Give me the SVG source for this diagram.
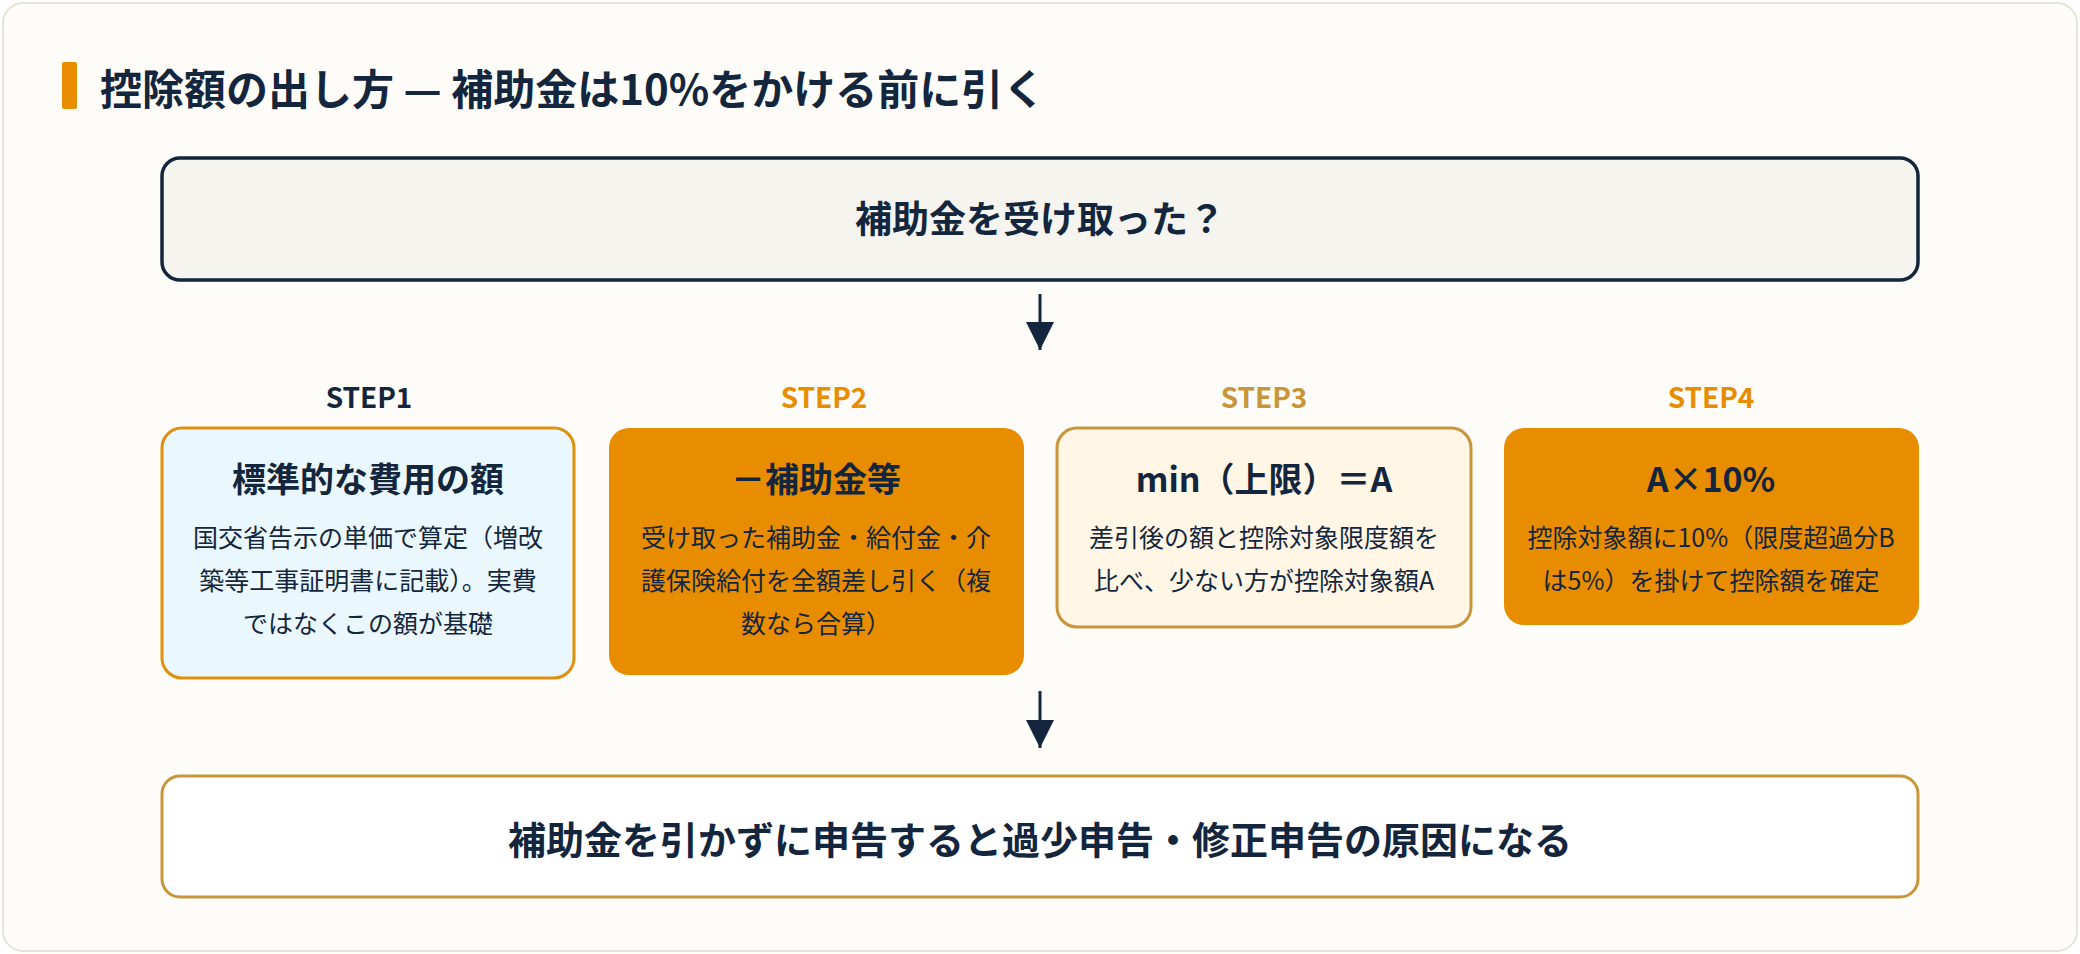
<svg xmlns="http://www.w3.org/2000/svg" width="2080" height="954" viewBox="0 0 2080 954">
<defs>
<style>
text{font-family:"Noto Sans CJK JP","Noto Sans",sans-serif;fill:#14263d;text-anchor:middle}
.h{font-size:37px;font-weight:700}
.hs{font-size:34px;font-weight:700}
.b{font-size:25px}
.s{font-size:28px;font-weight:700}
.ln{stroke:#14263d;stroke-width:3;fill:none}
</style>
<marker id="arr" viewBox="0 0 10 10" refX="10" refY="5" markerWidth="28" markerHeight="28" markerUnits="userSpaceOnUse" orient="auto"><path d="M0,0L10,5L0,10z" fill="#14263d"/></marker>
</defs>
<rect x="3" y="3" width="2074" height="948" rx="20" fill="#fdfcf8" stroke="#e6e2d6" stroke-width="2"/>
<rect x="62" y="62" width="15" height="47" rx="2" fill="#e88c00"/>
<text x="100" y="105" style="text-anchor:start;font-size:42px;font-weight:700">控除額の出し方 — 補助金は10%をかける前に引く</text>
<g id="connectors">
<line class="ln" x1="1040" y1="294" x2="1040" y2="350" marker-end="url(#arr)"/>
<line class="ln" x1="1040" y1="691" x2="1040" y2="748" marker-end="url(#arr)"/>
</g>
<g id="top"><rect x="162" y="158" width="1756" height="122" rx="18" fill="#f5f4ee" stroke="#14263d" stroke-width="3.5"/>
<text class="h" x="1040" y="233">補助金を受け取った？</text></g>
<g id="step1"><text class="s" x="369" y="408">STEP1</text>
<rect x="162" y="428" width="412" height="250" rx="20" fill="#eaf7fc" stroke="#e0900f" stroke-width="3"/>
<text class="hs" x="368" y="492">標準的な費用の額</text>
<text class="b" x="368" y="547">国交省告示の単価で算定（増改</text>
<text class="b" x="368" y="590">築等工事証明書に記載）。実費</text>
<text class="b" x="368" y="633">ではなくこの額が基礎</text></g>
<g id="step2"><text class="s" x="824" y="408" style="fill:#e88c00">STEP2</text>
<rect x="609" y="428" width="415" height="247" rx="20" fill="#e88c00"/>
<text class="hs" x="816" y="492">－補助金等</text>
<text class="b" x="816" y="547">受け取った補助金・給付金・介</text>
<text class="b" x="816" y="590">護保険給付を全額差し引く（複</text>
<text class="b" x="816" y="633">数なら合算）</text></g>
<g id="step3"><text class="s" x="1264" y="408" style="fill:#c8953a">STEP3</text>
<rect x="1057" y="428" width="414" height="199" rx="20" fill="#fff6e6" stroke="#c8953a" stroke-width="3"/>
<text class="hs" x="1264" y="492">min（上限）＝A</text>
<text class="b" x="1264" y="547">差引後の額と控除対象限度額を</text>
<text class="b" x="1264" y="590">比べ、少ない方が控除対象額A</text></g>
<g id="step4"><text class="s" x="1711" y="408" style="fill:#e88c00">STEP4</text>
<rect x="1504" y="428" width="415" height="197" rx="20" fill="#e88c00"/>
<text class="hs" x="1711" y="492">A×10%</text>
<text class="b" x="1711" y="547">控除対象額に10%（限度超過分B</text>
<text class="b" x="1711" y="590">は5%）を掛けて控除額を確定</text></g>
<g id="bottom"><rect x="162" y="776" width="1756" height="121" rx="18" fill="#ffffff" stroke="#c8953a" stroke-width="3"/>
<text class="h" x="1040" y="854" style="font-size:38px">補助金を引かずに申告すると過少申告・修正申告の原因になる</text></g>
</svg>
